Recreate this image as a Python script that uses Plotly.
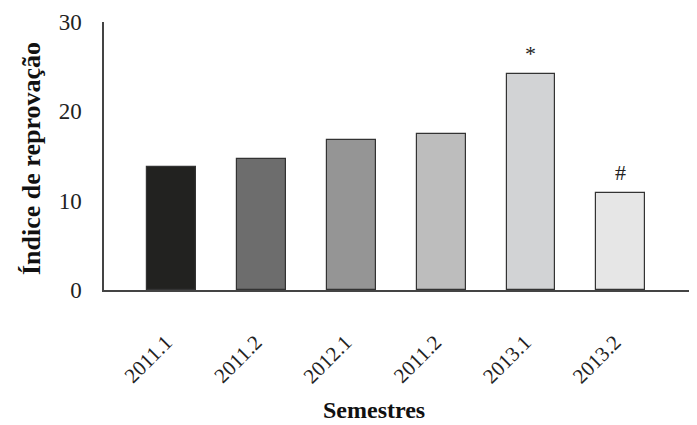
import plotly.graph_objects as go

categorias = ["2011.1", "2011.2", "2012.1", "2011.2", "2013.1", "2013.2"]
indice = [13.8, 14.7, 16.8, 17.5, 24.2, 10.9]
cores = ["#222220", "#6d6d6d", "#959595", "#bdbdbd", "#d2d3d5", "#e6e6e6"]
marcas = ["", "", "", "", "*", "#"]

pos = list(range(len(categorias)))

FONT = "Liberation Serif"
OFF = 8  # default page body margin
W, H = 697 - OFF, 425 - OFF
L, R, T = 104 - OFF, 0, 22 - OFF
B = OFF + H - 290
pw = W - L - R
ph = H - T - B

fig = go.Figure()
fig.add_trace(go.Bar(
    x=pos, y=indice, width=0.545,
    marker=dict(color=cores, line=dict(color="#333333", width=1.2)),
    showlegend=False, hoverinfo="skip",
))

for xi, yi, m in zip(pos, indice, marcas):
    if m:
        fig.add_annotation(x=xi, y=yi, text=m, showarrow=False,
                           yanchor="bottom", yshift=6,
                           font=dict(family=FONT, size=22, color="#222"))

fig.add_annotation(text="<b>Semestres</b>", xref="paper", yref="paper",
                   x=(374 - 104) / pw, y=-(424 - 290) / ph,
                   xanchor="center", yanchor="bottom", showarrow=False,
                   borderpad=0,
                   font=dict(family=FONT, size=24, color="#111"))
fig.add_annotation(text="<b>Índice de reprovação</b>", xref="paper", yref="paper",
                   x=(31 - 104) / pw, y=(290 - 159) / ph, textangle=-90,
                   xanchor="center", yanchor="middle", showarrow=False,
                   font=dict(family=FONT, size=26, color="#111"))

fig.update_layout(
    width=W, height=H,
    margin=dict(l=L, r=R, t=T, b=B, autoexpand=False),
    plot_bgcolor="white", paper_bgcolor="white",
    font=dict(family=FONT, size=22, color="#222"),
    bargap=0,
)
fig.update_xaxes(
    range=[-0.757, 5.85], tickmode="array", tickvals=pos, ticktext=categorias,
    tickangle=-45, showline=True, linecolor="#444", linewidth=1.5,
    showgrid=False, zeroline=False, ticks="", ticklabelstandoff=30,
    ticklabelshift=-6,
    tickfont=dict(family=FONT, size=21, color="#222"),
)
fig.update_yaxes(
    range=[0, 30], tickvals=[0, 10, 20, 30], showline=True, linecolor="#444",
    linewidth=1.5, showgrid=False, zeroline=False, ticks="", ticklabelstandoff=16,
    tickfont=dict(family=FONT, size=23, color="#222"),
)

fig.write_html("out.html")
